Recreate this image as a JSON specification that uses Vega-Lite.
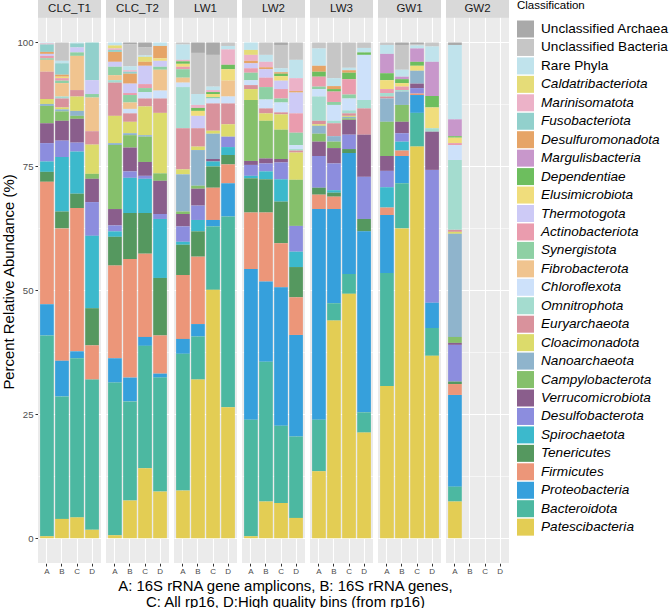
{
  "$schema": "https://vega.github.io/schema/vega-lite/v6.json",
  "padding": {"left": 1, "top": 0, "right": 0, "bottom": 0},
  "background": "white",
  "config": {
    "font": "Liberation Sans",
    "view": {"fill": "#ebebeb", "stroke": null}
  },
  "title": {"text": ["A: 16S rRNA gene amplicons, B: 16S rRNA genes,", "C: All rp16, D:High quality bins (from rp16)"], "orient": "bottom", "anchor": "middle", "frame": "bounds", "dx": -50, "fontSize": 14.9, "fontWeight": "normal", "color": "black", "lineHeight": 15.5, "offset": 4},
  "data": {"values": [
    {"site":"CLC_T1","m":"A","Patescibacteria":0.4,"Bacteroidota":40.5,"Proteobacteria":6.3,"Firmicutes":24.7,"Tenericutes":2.0,"Spirochaetota":2.1,"Desulfobacterota":3.7,"Verrucomicrobiota":4.0,"Campylobacterota":3.5,"Nanoarchaeota":0.4,"Cloacimonadota":1.0,"Euryarchaeota":5.5,"Fibrobacterota":2.4,"Synergistota":0.3,"Actinobacteriota":0.5,"Thermotogota":0.4,"Desulfuromonadota":0.4,"Fusobacteriota":1.5,"Marinisomatota":0.2,"Rare Phyla":0.2},
    {"site":"CLC_T1","m":"B","Patescibacteria":3.9,"Bacteroidota":24.7,"Proteobacteria":7.2,"Firmicutes":26.7,"Tenericutes":3.4,"Spirochaetota":11.0,"Desulfobacterota":3.3,"Verrucomicrobiota":4.0,"Campylobacterota":1.9,"Nanoarchaeota":0.4,"Cloacimonadota":0.4,"Euryarchaeota":1.8,"Omnitrophota":0.4,"Fibrobacterota":2.7,"Synergistota":0.5,"Actinobacteriota":0.5,"Elusimicrobiota":0.3,"Desulfuromonadota":0.4,"Fusobacteriota":2.3,"Rare Phyla":0.5,"Unclassified Bacteria":3.7},
    {"site":"CLC_T1","m":"C","Patescibacteria":4.2,"Bacteroidota":32.1,"Proteobacteria":1.4,"Firmicutes":28.9,"Tenericutes":2.9,"Spirochaetota":8.5,"Desulfobacterota":1.8,"Verrucomicrobiota":4.8,"Campylobacterota":0.6,"Nanoarchaeota":1.0,"Cloacimonadota":2.9,"Euryarchaeota":1.3,"Fibrobacterota":6.9,"Synergistota":0.7,"Thermotogota":1.0,"Fusobacteriota":0.8,"Rare Phyla":0.2},
    {"site":"CLC_T1","m":"D","Patescibacteria":1.7,"Bacteroidota":30.3,"Firmicutes":6.9,"Tenericutes":7.5,"Spirochaetota":14.6,"Desulfobacterota":6.8,"Verrucomicrobiota":4.7,"Campylobacterota":1.0,"Cloacimonadota":5.9,"Euryarchaeota":2.7,"Fibrobacterota":6.8,"Synergistota":0.7,"Thermotogota":2.8,"Fusobacteriota":7.6},
    {"site":"CLC_T2","m":"A","Patescibacteria":0.6,"Bacteroidota":30.8,"Proteobacteria":4.9,"Firmicutes":18.7,"Tenericutes":5.8,"Spirochaetota":1.1,"Desulfobacterota":1.2,"Verrucomicrobiota":3.3,"Campylobacterota":12.9,"Nanoarchaeota":0.4,"Cloacimonadota":5.5,"Euryarchaeota":6.7,"Omnitrophota":0.5,"Fibrobacterota":1.0,"Synergistota":1.7,"Thermotogota":1.0,"Desulfuromonadota":2.0,"Fusobacteriota":0.4,"Marinisomatota":0.3,"Caldatribacteriota":0.6,"Rare Phyla":0.6},
    {"site":"CLC_T2","m":"B","Patescibacteria":7.6,"Bacteroidota":20.0,"Proteobacteria":4.8,"Firmicutes":23.9,"Tenericutes":9.3,"Spirochaetota":7.1,"Desulfobacterota":1.3,"Verrucomicrobiota":4.8,"Campylobacterota":2.5,"Nanoarchaeota":0.4,"Cloacimonadota":2.3,"Euryarchaeota":1.7,"Chloroflexota":0.9,"Fibrobacterota":1.3,"Synergistota":1.5,"Actinobacteriota":0.4,"Thermotogota":1.9,"Desulfuromonadota":2.0,"Fusobacteriota":0.4,"Marinisomatota":0.3,"Rare Phyla":0.8,"Unclassified Bacteria":4.4,"Unclassified Archaea":0.4},
    {"site":"CLC_T2","m":"C","Patescibacteria":14.1,"Bacteroidota":24.7,"Proteobacteria":1.8,"Firmicutes":16.8,"Tenericutes":8.2,"Spirochaetota":6.9,"Desulfobacterota":0.6,"Verrucomicrobiota":2.8,"Campylobacterota":5.1,"Nanoarchaeota":0.3,"Cloacimonadota":5.8,"Euryarchaeota":1.6,"Chloroflexota":1.3,"Synergistota":0.8,"Actinobacteriota":0.8,"Thermotogota":3.7,"Desulfuromonadota":0.8,"Caldatribacteriota":1.0,"Rare Phyla":0.3,"Unclassified Bacteria":1.6,"Unclassified Archaea":1.0},
    {"site":"CLC_T2","m":"D","Patescibacteria":9.4,"Bacteroidota":23.0,"Proteobacteria":0.8,"Firmicutes":7.7,"Tenericutes":11.6,"Spirochaetota":11.9,"Desulfobacterota":1.0,"Verrucomicrobiota":6.7,"Campylobacterota":1.5,"Cloacimonadota":12.2,"Euryarchaeota":2.9,"Chloroflexota":1.6,"Fibrobacterota":4.2,"Synergistota":0.6,"Thermotogota":1.2,"Elusimicrobiota":0.5,"Desulfuromonadota":2.5,"Rare Phyla":0.7},
    {"site":"LW1","m":"A","Patescibacteria":9.6,"Bacteroidota":27.6,"Proteobacteria":3.0,"Firmicutes":12.9,"Tenericutes":6.1,"Spirochaetota":0.6,"Desulfobacterota":3.1,"Verrucomicrobiota":2.5,"Campylobacterota":0.5,"Nanoarchaeota":7.5,"Cloacimonadota":1.0,"Euryarchaeota":8.3,"Omnitrophota":8.3,"Chloroflexota":0.9,"Fibrobacterota":1.0,"Synergistota":1.7,"Actinobacteriota":0.5,"Elusimicrobiota":0.6,"Dependentiae":0.5,"Marinisomatota":0.3,"Rare Phyla":3.1,"Unclassified Bacteria":0.4},
    {"site":"LW1","m":"B","Patescibacteria":32.0,"Bacteroidota":8.7,"Proteobacteria":2.5,"Firmicutes":13.6,"Tenericutes":5.1,"Spirochaetota":2.3,"Desulfobacterota":2.9,"Verrucomicrobiota":3.4,"Campylobacterota":0.6,"Nanoarchaeota":7.2,"Cloacimonadota":0.7,"Euryarchaeota":3.7,"Thermotogota":2.5,"Elusimicrobiota":1.0,"Dependentiae":0.6,"Marinisomatota":0.6,"Rare Phyla":2.2,"Unclassified Bacteria":8.3,"Unclassified Archaea":2.1},
    {"site":"LW1","m":"C","Patescibacteria":50.1,"Bacteroidota":12.8,"Proteobacteria":1.3,"Firmicutes":6.5,"Tenericutes":4.3,"Spirochaetota":1.0,"Verrucomicrobiota":0.5,"Nanoarchaeota":5.1,"Cloacimonadota":0.6,"Euryarchaeota":5.5,"Chloroflexota":1.0,"Synergistota":0.3,"Elusimicrobiota":0.6,"Dependentiae":0.4,"Marinisomatota":0.4,"Rare Phyla":0.7,"Unclassified Bacteria":6.4,"Unclassified Archaea":2.5},
    {"site":"LW1","m":"D","Patescibacteria":26.4,"Bacteroidota":38.5,"Proteobacteria":6.7,"Firmicutes":3.8,"Tenericutes":1.9,"Spirochaetota":1.6,"Desulfobacterota":2.1,"Cloacimonadota":2.5,"Euryarchaeota":4.2,"Chloroflexota":1.4,"Fibrobacterota":3.2,"Elusimicrobiota":2.3,"Dependentiae":0.9,"Marinisomatota":3.1,"Rare Phyla":0.7,"Unclassified Bacteria":0.7},
    {"site":"LW2","m":"A","Patescibacteria":0.4,"Bacteroidota":23.5,"Proteobacteria":30.4,"Firmicutes":11.4,"Tenericutes":6.9,"Spirochaetota":0.5,"Desulfobacterota":2.2,"Verrucomicrobiota":0.8,"Campylobacterota":12.3,"Cloacimonadota":2.2,"Euryarchaeota":0.8,"Chloroflexota":1.0,"Synergistota":1.5,"Actinobacteriota":0.9,"Thermotogota":1.0,"Desulfuromonadota":0.5,"Marinisomatota":1.2,"Caldatribacteriota":1.0,"Rare Phyla":1.5},
    {"site":"LW2","m":"B","Patescibacteria":7.4,"Bacteroidota":28.2,"Proteobacteria":16.2,"Firmicutes":13.9,"Tenericutes":6.7,"Spirochaetota":1.6,"Desulfobacterota":1.6,"Verrucomicrobiota":1.0,"Campylobacterota":7.6,"Cloacimonadota":1.5,"Euryarchaeota":1.0,"Chloroflexota":1.8,"Synergistota":2.5,"Actinobacteriota":1.9,"Thermotogota":1.7,"Desulfuromonadota":0.4,"Marinisomatota":1.1,"Rare Phyla":1.4,"Unclassified Bacteria":2.5},
    {"site":"LW2","m":"C","Patescibacteria":7.1,"Bacteroidota":15.6,"Proteobacteria":27.9,"Firmicutes":8.9,"Tenericutes":8.4,"Spirochaetota":4.5,"Desulfobacterota":3.4,"Verrucomicrobiota":0.7,"Campylobacterota":5.9,"Cloacimonadota":3.1,"Euryarchaeota":0.4,"Chloroflexota":2.0,"Synergistota":0.8,"Actinobacteriota":1.9,"Thermotogota":1.7,"Elusimicrobiota":0.9,"Dependentiae":0.5,"Desulfuromonadota":0.3,"Rare Phyla":0.8,"Unclassified Bacteria":4.7,"Unclassified Archaea":0.5},
    {"site":"LW2","m":"D","Patescibacteria":4.1,"Bacteroidota":16.4,"Proteobacteria":20.5,"Firmicutes":7.6,"Tenericutes":6.1,"Spirochaetota":3.1,"Desulfobacterota":5.2,"Campylobacterota":9.3,"Cloacimonadota":5.5,"Euryarchaeota":0.4,"Omnitrophota":0.3,"Chloroflexota":0.8,"Synergistota":2.5,"Actinobacteriota":3.9,"Thermotogota":4.2,"Desulfuromonadota":0.3,"Marinisomatota":2.6,"Rare Phyla":3.7,"Unclassified Bacteria":3.5},
    {"site":"LW3","m":"A","Patescibacteria":13.5,"Bacteroidota":10.4,"Proteobacteria":42.5,"Firmicutes":2.9,"Tenericutes":1.4,"Desulfobacterota":6.4,"Verrucomicrobiota":2.9,"Campylobacterota":1.6,"Nanoarchaeota":1.6,"Cloacimonadota":0.3,"Euryarchaeota":0.7,"Omnitrophota":4.9,"Chloroflexota":1.5,"Synergistota":0.5,"Actinobacteriota":2.0,"Dependentiae":1.0,"Desulfuromonadota":1.2,"Rare Phyla":3.5,"Unclassified Bacteria":1.2},
    {"site":"LW3","m":"B","Patescibacteria":43.9,"Bacteroidota":3.5,"Proteobacteria":19.0,"Firmicutes":2.5,"Tenericutes":0.8,"Spirochaetota":0.5,"Desulfobacterota":5.4,"Verrucomicrobiota":3.1,"Campylobacterota":1.3,"Nanoarchaeota":1.1,"Euryarchaeota":2.6,"Omnitrophota":0.5,"Chloroflexota":3.2,"Synergistota":0.6,"Actinobacteriota":2.1,"Dependentiae":0.5,"Desulfuromonadota":0.6,"Rare Phyla":1.6,"Unclassified Bacteria":7.2},
    {"site":"LW3","m":"C","Patescibacteria":49.3,"Bacteroidota":4.0,"Proteobacteria":24.4,"Tenericutes":0.8,"Desulfobacterota":2.9,"Verrucomicrobiota":3.0,"Campylobacterota":0.3,"Nanoarchaeota":0.3,"Cloacimonadota":0.2,"Euryarchaeota":0.5,"Omnitrophota":0.6,"Chloroflexota":2.4,"Synergistota":0.8,"Actinobacteriota":3.1,"Dependentiae":1.3,"Desulfuromonadota":0.5,"Rare Phyla":0.5,"Unclassified Bacteria":5.1},
    {"site":"LW3","m":"D","Patescibacteria":21.3,"Bacteroidota":4.1,"Proteobacteria":36.5,"Tenericutes":2.5,"Desulfobacterota":8.5,"Verrucomicrobiota":8.5,"Euryarchaeota":5.3,"Omnitrophota":1.7,"Chloroflexota":9.1,"Dependentiae":0.5,"Rare Phyla":0.9,"Unclassified Bacteria":1.1},
    {"site":"GW1","m":"A","Patescibacteria":30.7,"Bacteroidota":22.8,"Proteobacteria":11.7,"Firmicutes":1.5,"Spirochaetota":4.1,"Desulfobacterota":3.3,"Verrucomicrobiota":3.0,"Campylobacterota":6.9,"Nanoarchaeota":4.7,"Euryarchaeota":0.4,"Omnitrophota":0.7,"Actinobacteriota":0.8,"Elusimicrobiota":1.8,"Dependentiae":1.4,"Margulisbacteria":3.9,"Rare Phyla":1.8,"Unclassified Bacteria":0.5},
    {"site":"GW1","m":"B","Patescibacteria":62.5,"Bacteroidota":9.1,"Proteobacteria":5.5,"Firmicutes":1.1,"Spirochaetota":1.8,"Desulfobacterota":1.7,"Verrucomicrobiota":2.3,"Campylobacterota":3.4,"Nanoarchaeota":2.7,"Omnitrophota":0.3,"Actinobacteriota":0.7,"Elusimicrobiota":0.7,"Dependentiae":0.8,"Margulisbacteria":0.5,"Rare Phyla":1.4,"Unclassified Bacteria":5.0,"Unclassified Archaea":0.5},
    {"site":"GW1","m":"C","Patescibacteria":79.0,"Bacteroidota":6.8,"Proteobacteria":3.6,"Firmicutes":0.3,"Desulfobacterota":1.1,"Verrucomicrobiota":0.9,"Nanoarchaeota":2.6,"Elusimicrobiota":1.0,"Dependentiae":0.8,"Margulisbacteria":2.7,"Rare Phyla":0.6,"Unclassified Bacteria":0.3,"Unclassified Archaea":0.3},
    {"site":"GW1","m":"D","Patescibacteria":36.8,"Bacteroidota":5.6,"Proteobacteria":5.1,"Desulfobacterota":26.8,"Verrucomicrobiota":7.7,"Omnitrophota":0.7,"Elusimicrobiota":4.2,"Dependentiae":2.3,"Margulisbacteria":6.9,"Rare Phyla":3.1,"Unclassified Bacteria":0.8},
    {"site":"GW2","m":"A","Patescibacteria":7.4,"Bacteroidota":3.0,"Proteobacteria":18.5,"Firmicutes":2.2,"Tenericutes":0.5,"Desulfobacterota":7.4,"Verrucomicrobiota":0.4,"Campylobacterota":1.2,"Nanoarchaeota":20.8,"Cloacimonadota":0.4,"Euryarchaeota":0.4,"Omnitrophota":14.1,"Chloroflexota":3.0,"Actinobacteriota":0.4,"Elusimicrobiota":1.1,"Dependentiae":0.3,"Margulisbacteria":3.4,"Rare Phyla":15.0,"Unclassified Archaea":0.5}
  ]},
  "transform": [
    {"fold": ["Unclassified Archaea","Unclassified Bacteria","Rare Phyla","Caldatribacteriota","Marinisomatota","Fusobacteriota","Desulfuromonadota","Margulisbacteria","Dependentiae","Elusimicrobiota","Thermotogota","Actinobacteriota","Synergistota","Fibrobacterota","Chloroflexota","Omnitrophota","Euryarchaeota","Cloacimonadota","Nanoarchaeota","Campylobacterota","Verrucomicrobiota","Desulfobacterota","Spirochaetota","Tenericutes","Firmicutes","Proteobacteria","Bacteroidota","Patescibacteria"], "as": ["cls","pct"]},
    {"filter": "isValid(datum.pct)"},
    {"calculate": "indexof(['Unclassified Archaea','Unclassified Bacteria','Rare Phyla','Caldatribacteriota','Marinisomatota','Fusobacteriota','Desulfuromonadota','Margulisbacteria','Dependentiae','Elusimicrobiota','Thermotogota','Actinobacteriota','Synergistota','Fibrobacterota','Chloroflexota','Omnitrophota','Euryarchaeota','Cloacimonadota','Nanoarchaeota','Campylobacterota','Verrucomicrobiota','Desulfobacterota','Spirochaetota','Tenericutes','Firmicutes','Proteobacteria','Bacteroidota','Patescibacteria'], datum.cls)", "as": "ord"}
  ],
  "facet": {"column": {"field": "site", "type": "nominal", "sort": ["CLC_T1","CLC_T2","LW1","LW2","LW3","GW1","GW2"], "title": null,
    "header": {"labels": false, "title": null}}},
  "spacing": {"column": 5},
  "spec": {
    "width": 63,
    "height": 563,
    "layer": [
      {
        "mark": {"type": "bar"},
        "encoding": {
          "x": {"field": "m", "type": "nominal", "sort": ["A","B","C","D"],
            "scale": {"paddingInner": 0.09, "paddingOuter": 0.14},
            "axis": {"title": null,
              "labelAngle": 0, "labelFontSize": 8, "labelColor": "#4d4d4d", "labelPadding": 1,
              "tickColor": "#333333", "tickSize": 3, "domain": false,
              "grid": true, "gridColor": "white", "gridWidth": 1.1, "bandPosition": 0.5}},
          "y": {"field": "pct", "type": "quantitative", "stack": "zero",
            "scale": {"domain": [-5, 108.57], "nice": false, "zero": false},
            "axis": {"title": "Percent Relative Abundance (%)", "values": [0,12.5,25,37.5,50,62.5,75,87.5,100],
              "labelExpr": "datum.value % 25 === 0 ? datum.label : ''",
              "gridColor": "white",
              "gridWidth": {"condition": {"test": "datum.value % 25 === 0", "value": 1.1}, "value": 0.55},
              "tickOpacity": {"condition": {"test": "datum.value % 25 === 0", "value": 1}, "value": 0},
              "labelFontSize": 9.6, "labelColor": "#4d4d4d", "tickColor": "#333333", "tickSize": 3, "labelPadding": 2,
              "domain": false, "titleFontSize": 14.9, "titleFontWeight": "normal", "titleColor": "black", "titlePadding": 0}},
          "color": {"field": "cls", "type": "nominal",
            "scale": {
              "domain": ["Unclassified Archaea","Unclassified Bacteria","Rare Phyla","Caldatribacteriota","Marinisomatota","Fusobacteriota","Desulfuromonadota","Margulisbacteria","Dependentiae","Elusimicrobiota","Thermotogota","Actinobacteriota","Synergistota","Fibrobacterota","Chloroflexota","Omnitrophota","Euryarchaeota","Cloacimonadota","Nanoarchaeota","Campylobacterota","Verrucomicrobiota","Desulfobacterota","Spirochaetota","Tenericutes","Firmicutes","Proteobacteria","Bacteroidota","Patescibacteria"],
              "range": ["#a9a9a9","#c6c6c6","#c0e3ec","#e5dc78","#ecb2c8","#92d0cc","#e6a467","#c897cb","#6dbe5e","#f0dd7c","#cdcaf6","#ea9cae","#8ed0a4","#f0c48f","#cde1fa","#a4dccf","#d9929c","#dcdb6b","#8fb4cc","#85c06b","#8a5e8c","#8c8dde","#3cb9cc","#55985f","#ec9679","#36a0dc","#4cb8a1","#e3cd54"]},
            "legend": {"title": "Classification", "titleFontSize": 11.5, "titleFontWeight": "normal", "titleColor": "black", "titlePadding": 9,
              "labelFontSize": 13.6, "labelColor": "black", "labelLimit": 220, "labelOffset": 7,
              "symbolType": "square", "symbolSize": 289, "symbolStrokeWidth": 0, "symbolOpacity": 1,
              "rowPadding": 1.45, "offset": 8, "padding": 0,
              "encode": {"labels": {"update": {"fontStyle": {"signal": "indexof(['Unclassified Archaea','Unclassified Bacteria','Rare Phyla'], datum.value) >= 0 ? 'normal' : 'italic'"}}}}}},
          "order": {"field": "ord", "type": "quantitative", "sort": "descending"}
        }
      },
      {
        "transform": [{"filter": "datum.m === 'A' && datum.cls === 'Patescibacteria'"}],
        "mark": {"type": "rect", "color": "#d9d9d9"},
        "encoding": {"y": {"datum": 105}, "y2": {"datum": 108.57}}
      },
      {
        "transform": [{"filter": "datum.m === 'A' && datum.cls === 'Patescibacteria'"}],
        "mark": {"type": "text", "fontSize": 11.5, "color": "#1a1a1a", "baseline": "middle"},
        "encoding": {"y": {"datum": 106.8}, "text": {"field": "site"}}
      }
    ]
  }
}
